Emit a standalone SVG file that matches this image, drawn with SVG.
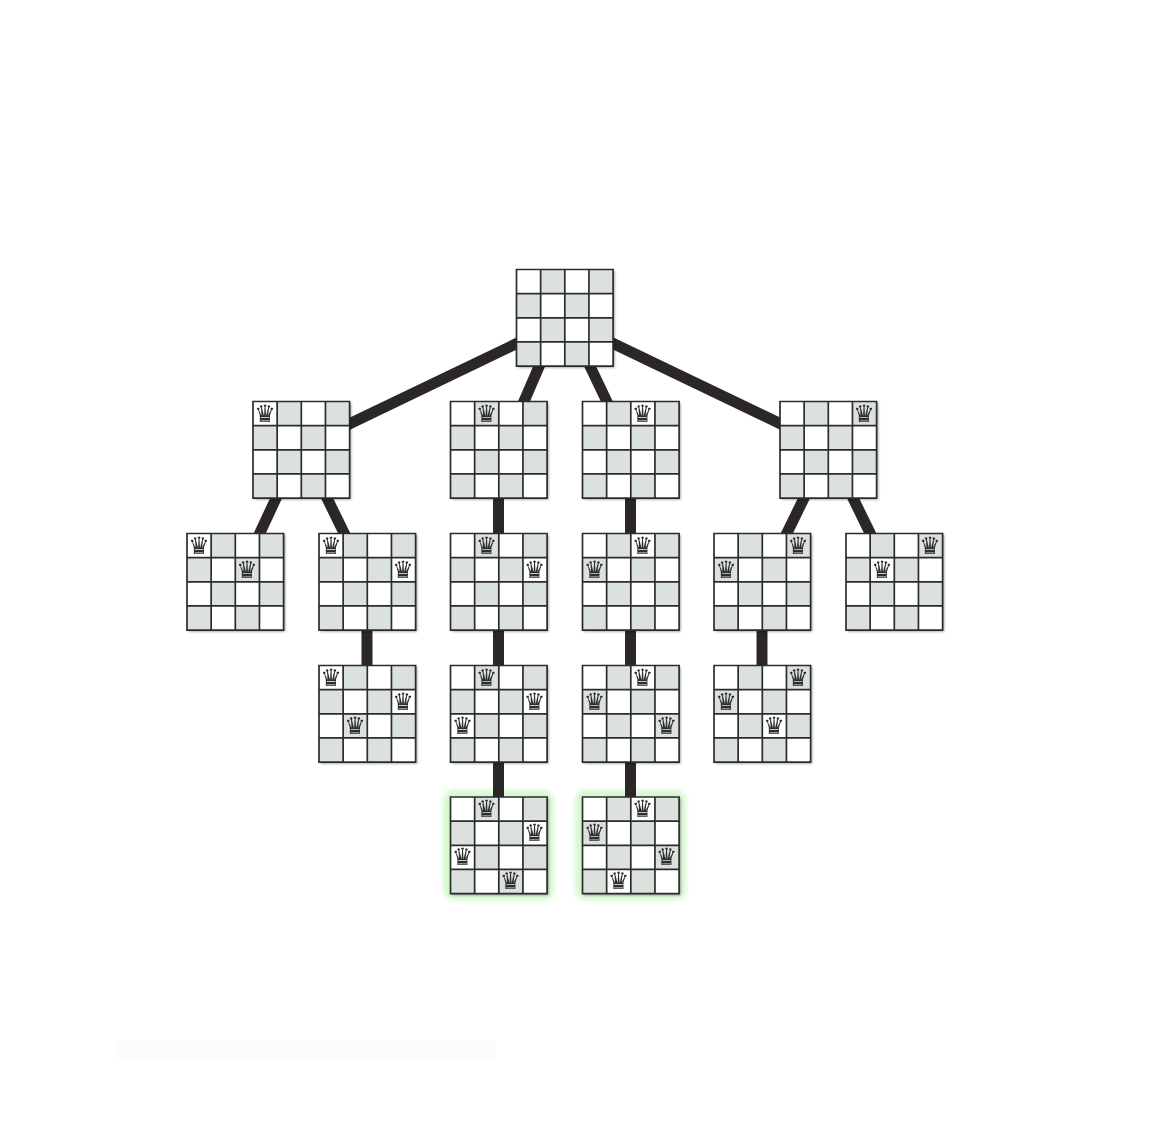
<svg xmlns="http://www.w3.org/2000/svg" width="1150" height="1146" viewBox="0 0 1150 1146">
<style>
.bg{fill:#fff}
.cell{fill:#dbe1dc}
.grid{fill:none;stroke:#2c2c2c;stroke-width:1.7}
.edge{fill:none;stroke:#2b2727;stroke-width:11}
.q{font-family:"DejaVu Sans",sans-serif;font-size:24px;fill:#2e2e2e;text-anchor:middle;filter:url(#sf)}
.glow{fill:#d6f8d0;filter:url(#gb)}
</style>
<defs>
<filter id="sh" x="-10%" y="-10%" width="120%" height="120%"><feDropShadow dx="1.5" dy="1.5" stdDeviation="1.2" flood-color="#000" flood-opacity=".4"/></filter>
<filter id="gb" x="-20%" y="-20%" width="140%" height="140%"><feGaussianBlur stdDeviation="2.5"/></filter>
<filter id="sf" x="-20%" y="-20%" width="140%" height="140%"><feGaussianBlur stdDeviation="0.3"/></filter>
<g id="board">
<rect width="96.6" height="96.6" fill="#fff" filter="url(#sh)"/>
<path class="cell" d="M24.15 0h24.15v24.15h-24.15zM72.45 0h24.15v24.15h-24.15zM0 24.15h24.15v24.15h-24.15zM48.3 24.15h24.15v24.15h-24.15zM24.15 48.3h24.15v24.15h-24.15zM72.45 48.3h24.15v24.15h-24.15zM0 72.45h24.15v24.15h-24.15zM48.3 72.45h24.15v24.15h-24.15z"/>
<path class="grid" d="M0 0h96.6v96.6h-96.6zM24.15 0v96.6M48.3 0v96.6M72.45 0v96.6M0 24.15h96.6M0 48.3h96.6M0 72.45h96.6"/>
</g>
</defs>
<rect class="bg" width="1150" height="1146"/>
<rect x="114" y="1040" width="382" height="22" fill="#fcfcfc"/>
<rect class="glow" x="443" y="790" width="111" height="110" rx="11"/>
<rect class="glow" x="575" y="790" width="111" height="110" rx="11"/>
<g id="connectors" class="edge">
<path d="M522 341L345 426"/>
<path d="M541 362L522 406"/>
<path d="M588 362L609 406"/>
<path d="M608 341L785 426"/>
<path d="M278 494L258 537"/>
<path d="M325 494L346 537"/>
<path d="M806 494L785 537"/>
<path d="M851 494L872 537"/>
<path d="M498.500 498V533"/>
<path d="M630.500 498V533"/>
<path d="M498.500 630V665"/>
<path d="M630.500 630V665"/>
<path d="M367 630V665"/>
<path d="M762 630V665"/>
<path d="M498.500 762V797"/>
<path d="M630.500 762V797"/>
</g>
<g id="n0" transform="translate(516.500 269.500)"><use href="#board"/></g>
<g id="n1" transform="translate(253 401.500)"><use href="#board"/><text class="q" x="12" y="20">♛</text></g>
<g id="n2" transform="translate(450.500 401.500)"><use href="#board"/><text class="q" x="36" y="20">♛</text></g>
<g id="n3" transform="translate(582.500 401.500)"><use href="#board"/><text class="q" x="60" y="20">♛</text></g>
<g id="n4" transform="translate(780 401.500)"><use href="#board"/><text class="q" x="84" y="20">♛</text></g>
<g id="n5" transform="translate(187 533.500)"><use href="#board"/><text class="q" x="12" y="20">♛</text><text class="q" x="60" y="44">♛</text></g>
<g id="n6" transform="translate(319 533.500)"><use href="#board"/><text class="q" x="12" y="20">♛</text><text class="q" x="84" y="44">♛</text></g>
<g id="n7" transform="translate(450.500 533.500)"><use href="#board"/><text class="q" x="36" y="20">♛</text><text class="q" x="84" y="44">♛</text></g>
<g id="n8" transform="translate(582.500 533.500)"><use href="#board"/><text class="q" x="60" y="20">♛</text><text class="q" x="12" y="44">♛</text></g>
<g id="n9" transform="translate(714 533.500)"><use href="#board"/><text class="q" x="84" y="20">♛</text><text class="q" x="12" y="44">♛</text></g>
<g id="n10" transform="translate(846 533.500)"><use href="#board"/><text class="q" x="84" y="20">♛</text><text class="q" x="36" y="44">♛</text></g>
<g id="n11" transform="translate(319 665.500)"><use href="#board"/><text class="q" x="12" y="20">♛</text><text class="q" x="84" y="44">♛</text><text class="q" x="36" y="68">♛</text></g>
<g id="n12" transform="translate(450.500 665.500)"><use href="#board"/><text class="q" x="36" y="20">♛</text><text class="q" x="84" y="44">♛</text><text class="q" x="12" y="68">♛</text></g>
<g id="n13" transform="translate(582.500 665.500)"><use href="#board"/><text class="q" x="60" y="20">♛</text><text class="q" x="12" y="44">♛</text><text class="q" x="84" y="68">♛</text></g>
<g id="n14" transform="translate(714 665.500)"><use href="#board"/><text class="q" x="84" y="20">♛</text><text class="q" x="12" y="44">♛</text><text class="q" x="60" y="68">♛</text></g>
<g id="n15" transform="translate(450.500 797)"><use href="#board"/><text class="q" x="36" y="20">♛</text><text class="q" x="84" y="44">♛</text><text class="q" x="12" y="68">♛</text><text class="q" x="60" y="92">♛</text></g>
<g id="n16" transform="translate(582.500 797)"><use href="#board"/><text class="q" x="60" y="20">♛</text><text class="q" x="12" y="44">♛</text><text class="q" x="84" y="68">♛</text><text class="q" x="36" y="92">♛</text></g>
</svg>
